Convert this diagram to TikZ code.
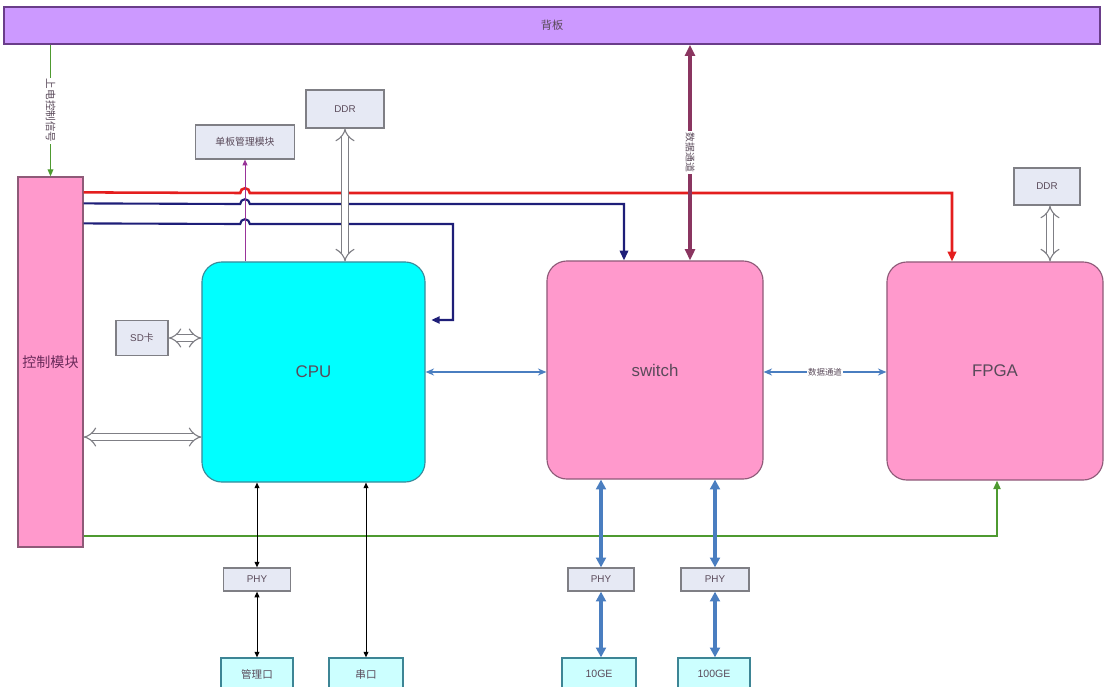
\documentclass[tikz,border=0pt]{standalone}
\usepackage{fontspec}
\setmainfont{Liberation Sans}
\newfontfamily\cjk{Noto Sans CJK SC}
\usetikzlibrary{arrows.meta,positioning}
\definecolor{barpurple}{HTML}{CC99FF}
\definecolor{baredge}{HTML}{6A3D8A}
\definecolor{chippink}{HTML}{FF99CC}
\definecolor{chipedge}{HTML}{8E5A78}
\definecolor{cpucyan}{HTML}{00FFFF}
\definecolor{cpuedge}{HTML}{3A8A9A}
\definecolor{boxgray}{HTML}{E6E9F4}
\definecolor{boxedge}{HTML}{7F7F85}
\definecolor{portcyan}{HTML}{CCFFFF}
\definecolor{portedge}{HTML}{3D8595}
\definecolor{labeltext}{HTML}{5A4A5A}
\definecolor{ctrltext}{HTML}{6A2A5A}
\definecolor{redsig}{HTML}{E41E1E}
\definecolor{navysig}{HTML}{1E1E78}
\definecolor{bluesig}{HTML}{4A7EC0}
\definecolor{maroonsig}{HTML}{8A3560}
\definecolor{greensig}{HTML}{4E9A30}
\definecolor{mgmtsig}{HTML}{993399}
\tikzset{
  chip/.style={rectangle,rounded corners=0.5cm,draw=chipedge,fill=chippink,line width=0.8pt,inner sep=0,font=\fontsize{12}{14}\selectfont,text=labeltext},
  graybox/.style={rectangle,draw=boxedge,fill=boxgray,line width=0.9pt,inner sep=0,font=\fontsize{7}{8}\selectfont,text=labeltext},
  portbox/.style={rectangle,draw=portedge,fill=portcyan,line width=0.9pt,inner sep=0,font=\fontsize{7.5}{8}\selectfont,text=labeltext},
  bus/.style={draw=boxedge,double=white,double distance=4pt,line width=0.8pt,{Implies}-{Implies}},
  tag/.style={fill=white,inner sep=1pt,font=\cjk\fontsize{6}{7}\selectfont,text=labeltext}
}
\begin{document}
\begin{tikzpicture}[x=0.025cm,y=-0.025cm]
\useasboundingbox (0,0) rectangle (1105,686);
% boxes
\node[rectangle,draw=baredge,fill=barpurple,line width=1pt,minimum width=27.4cm,minimum height=0.925cm,inner sep=0,font=\cjk\fontsize{8}{9}\selectfont,text=labeltext](bar) at (552,25.5){背板};
\node[rectangle,draw=chipedge,fill=chippink,line width=0.8pt,minimum width=1.625cm,minimum height=9.25cm,inner sep=0,font=\cjk\fontsize{10}{11}\selectfont,text=ctrltext](ctrl) at (50.5,362){控制模块};
\node[chip,fill=cpucyan,draw=cpuedge,minimum width=5.575cm,minimum height=5.5cm](cpu) at (313.5,372){CPU};
\node[chip,minimum width=5.4cm,minimum height=5.45cm](sw) at (655,370){switch};
\node[chip,minimum width=5.4cm,minimum height=5.45cm](fpga) at (995,371){FPGA};
\node[graybox,minimum width=1.95cm,minimum height=0.95cm](ddrA) at (345,109){DDR};
\node[graybox,font=\cjk\fontsize{7}{8}\selectfont,minimum width=2.475cm,minimum height=0.85cm](bmm) at (245,142){单板管理模块};
\node[graybox,minimum width=1.65cm,minimum height=0.925cm](ddrB) at (1047,186.5){DDR};
\node[graybox,minimum width=1.3cm,minimum height=0.875cm](sd) at (142,338){SD{\cjk 卡}};
\node[graybox,minimum width=1.675cm,minimum height=0.575cm](phyA) at (257,579.5){PHY};
\node[graybox,minimum width=1.65cm,minimum height=0.575cm](phyB) at (601,579.5){PHY};
\node[graybox,minimum width=1.7cm,minimum height=0.575cm](phyC) at (715,579.5){PHY};
\node[portbox,font=\cjk\fontsize{7.5}{8}\selectfont,minimum width=1.8cm,minimum height=0.8cm](mgmt) at (257,674){管理口};
\node[portbox,font=\cjk\fontsize{7.5}{8}\selectfont,minimum width=1.85cm,minimum height=0.8cm](uart) at (366,674){串口};
\node[portbox,minimum width=1.85cm,minimum height=0.8cm](ge10) at (599,674){10GE};
\node[portbox,minimum width=1.8cm,minimum height=0.8cm](ge100) at (714,674){100GE};
% signals from the control module
\draw[redsig,line width=1.8pt,-{Triangle[length=7pt,width=6pt]}] ([yshift=-0.4cm]ctrl.north east) -- (240.2,193) arc[start angle=180,end angle=0,radius=0.12cm] -| ([xshift=-1.075cm]fpga.north);
\draw[navysig,line width=1.5pt,-{Triangle[length=7pt,width=6pt]}] ([yshift=-0.675cm]ctrl.north east) -- (240.2,204) arc[start angle=180,end angle=0,radius=0.12cm] -| ([xshift=-0.775cm]sw.north);
\draw[navysig,line width=1.5pt,-{Triangle[length=6pt,width=5pt]}] ([yshift=-1.175cm]ctrl.north east) -- (240.2,224) arc[start angle=180,end angle=0,radius=0.12cm] -| (453,320) -- ([xshift=4pt]cpu.east |- 0,320);
\draw[mgmtsig,line width=0.6pt,-{Triangle[length=4pt,width=3.5pt]}] (cpu.north -| bmm) -- (bmm.south);
\draw[greensig,line width=0.9pt,-{Triangle[length=5pt,width=4pt]}] (bar.south -| ctrl) -- node[tag,rotate=-90,font=\cjk\fontsize{7.5}{8}\selectfont]{上电控制信号} (ctrl.north);
\draw[greensig,line width=1.3pt,-{Triangle[length=6pt,width=5pt]}] ([yshift=0.3cm]ctrl.south east) -| ([xshift=0.05cm]fpga.south);
% buses
\draw[bus] (ddrA.south) -- (ddrA.south |- cpu.north);
\draw[bus] (ddrB.south -| 1050,0) -- (fpga.north -| 1050,0);
\draw[bus] (sd.east) -- (sd.east -| cpu.west);
\draw[bus] ([yshift=-1.875cm]ctrl.east) -- ([yshift=-1.875cm]ctrl.east -| cpu.west);
\draw[maroonsig,line width=2.2pt,{Triangle[length=8pt,width=7pt]}-{Triangle[length=8pt,width=7pt]}] ([xshift=0.875cm]bar.south -| sw.north) -- node[tag,rotate=-90,font=\cjk\fontsize{7}{8}\selectfont]{数据通道} ([xshift=0.875cm]sw.north);
\draw[bluesig,line width=1.2pt,{Stealth[length=6pt,width=5pt]}-{Stealth[length=6pt,width=5pt]}] (cpu.east) -- (cpu.east -| sw.west);
\draw[bluesig,line width=1.2pt,{Stealth[length=6pt,width=5pt]}-{Stealth[length=6pt,width=5pt]}] (sw.east |- cpu.east) -- node[tag]{数据通道} (cpu.east -| fpga.west);
% ports
\draw[black,line width=0.7pt,{Triangle[length=4pt,width=3.5pt]}-{Triangle[length=4pt,width=3.5pt]}] (cpu.south -| phyA) -- (phyA.north);
\draw[black,line width=0.7pt,{Triangle[length=4pt,width=3.5pt]}-{Triangle[length=4pt,width=3.5pt]}] (phyA.south) -- (mgmt.north);
\draw[black,line width=0.7pt,{Triangle[length=4pt,width=3.5pt]}-{Triangle[length=4pt,width=3.5pt]}] (cpu.south -| uart) -- (uart.north);
\draw[bluesig,line width=2.2pt,{Triangle[length=7pt,width=7pt]}-{Triangle[length=7pt,width=7pt]}] (sw.south -| phyB) -- (phyB.north);
\draw[bluesig,line width=2.2pt,{Triangle[length=7pt,width=7pt]}-{Triangle[length=7pt,width=7pt]}] (phyB.south) -- (phyB.south |- ge10.north);
\draw[bluesig,line width=2.2pt,{Triangle[length=7pt,width=7pt]}-{Triangle[length=7pt,width=7pt]}] (sw.south -| phyC) -- (phyC.north);
\draw[bluesig,line width=2.2pt,{Triangle[length=7pt,width=7pt]}-{Triangle[length=7pt,width=7pt]}] (phyC.south) -- (phyC.south |- ge100.north);
\end{tikzpicture}
\end{document}
